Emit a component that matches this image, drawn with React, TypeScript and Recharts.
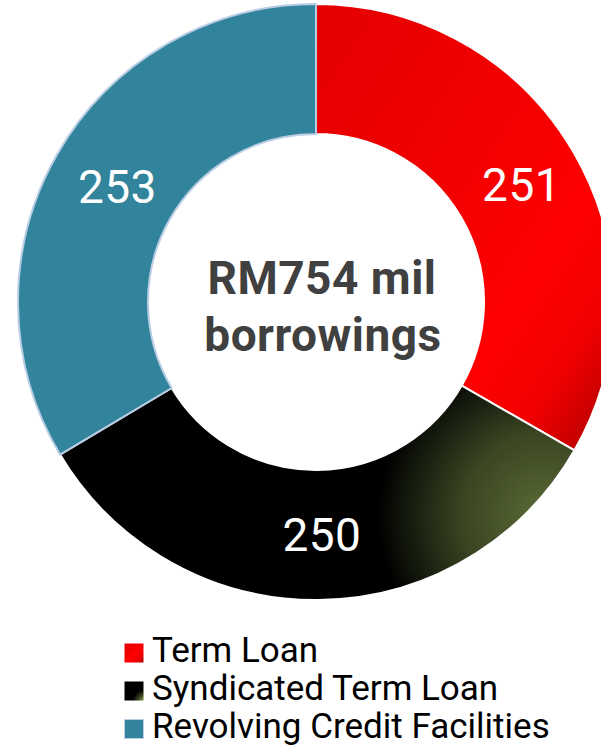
import React from "react";
import { PieChart, Pie, Cell, Legend } from "recharts";

const categories = ["Term Loan", "Syndicated Term Loan", "Revolving Credit Facilities"];
const values = [251, 250, 253];
const centerLines = ["RM754 mil", "borrowings"];

const sliceFills = ["url(#gradRed)", "url(#gradBlack)", "#31849B"];
const sliceStrokes = ["#FFFFFF", "#FFFFFF", "#B9CDE5"];
const legendFills = ["url(#lgRed)", "url(#lgBlack)", "#31849B"];
const legendStrokes = ["none", "none", "#B9CDE5"];

const data = categories.map((name, i) => ({ name, value: values[i] }));

const RAD = Math.PI / 180;

const renderLabel = (props: any) => {
  const { cx, cy, midAngle, innerRadius, outerRadius, value } = props;
  const r = (innerRadius + outerRadius) / 2;
  const x = cx + r * Math.cos(-midAngle * RAD);
  const y = cy + r * Math.sin(-midAngle * RAD);
  return (
    <text
      x={x + 4}
      y={y}
      fill="#FFFFFF"
      textAnchor="middle"
      dominantBaseline="central"
      style={{ fontFamily: "Roboto", fontSize: 46, letterSpacing: 0.5 }}
    >
      {value}
    </text>
  );
};

const renderLegend = () => (
  <div style={{ fontFamily: "Roboto", fontSize: 35, color: "#000", textAlign: "left" }}>
    {categories.map((c, i) => (
      <div key={c} style={{ display: "flex", alignItems: "center", height: 38, lineHeight: "38px", whiteSpace: "nowrap" }}>
        <svg width={20} height={20} style={{ marginRight: 8, position: "relative", top: 2, flex: "none" }}>
          <defs>
            <linearGradient id="lgRed" x1="0" y1="0" x2="1" y2="1">
              <stop offset="0" stopColor="#E40000" />
              <stop offset="0.6" stopColor="#FF0000" />
              <stop offset="0.85" stopColor="#E00000" />
              <stop offset="1" stopColor="#A00000" />
            </linearGradient>
            <radialGradient id="lgBlack" cx="1" cy="1" r="0.55">
              <stop offset="0" stopColor="#8A9A50" />
              <stop offset="0.5" stopColor="#3A4520" />
              <stop offset="1" stopColor="#000000" />
            </radialGradient>
          </defs>
          <rect
            x={0.5}
            y={0.5}
            width={19}
            height={19}
            fill={legendFills[i]}
            stroke={legendStrokes[i]}
            strokeWidth={1}
          />
        </svg>
        <span>{c}</span>
      </div>
    ))}
  </div>
);

export default function App() {
  return (
    <div style={{ position: "absolute", left: 0, top: 0, width: 601, height: 746, background: "#FFFFFF" }}>
      <PieChart width={601} height={746} margin={{ top: 0, right: 0, bottom: 0, left: 0 }}>
        <defs>
          <linearGradient id="gradRed" x1="0" y1="0" x2="1" y2="1">
            <stop offset="0" stopColor="#E40000" />
            <stop offset="0.35" stopColor="#F00000" />
            <stop offset="0.68" stopColor="#FF0000" />
            <stop offset="0.82" stopColor="#F20000" />
            <stop offset="1" stopColor="#A80000" />
          </linearGradient>
          <radialGradient id="gradBlack" gradientUnits="userSpaceOnUse" cx={545} cy={515} r={185}>
            <stop offset="0" stopColor="#5A6B35" />
            <stop offset="0.45" stopColor="#3A4522" />
            <stop offset="0.78" stopColor="#10140A" />
            <stop offset="0.9" stopColor="#000000" />
            <stop offset="1" stopColor="#000000" />
          </radialGradient>
        </defs>
        <Pie
          data={data}
          dataKey="value"
          nameKey="name"
          cx={316}
          cy={302}
          innerRadius={168}
          outerRadius={298}
          startAngle={90}
          endAngle={-270}
          label={renderLabel}
          labelLine={false}
          isAnimationActive={false}
        >
          {data.map((d, i) => (
            <Cell key={d.name} fill={sliceFills[i]} stroke={sliceStrokes[i]} strokeWidth={2} />
          ))}
        </Pie>
        <text
          x={322}
          y={294}
          textAnchor="middle"
          fill="#404040"
          style={{ fontFamily: "Roboto", fontSize: 46, fontWeight: 700, letterSpacing: 0.5 }}
        >
          {centerLines[0]}
        </text>
        <text
          x={323}
          y={351}
          textAnchor="middle"
          fill="#404040"
          style={{ fontFamily: "Roboto", fontSize: 46, fontWeight: 700, letterSpacing: 0.5 }}
        >
          {centerLines[1]}
        </text>
        <Legend
          content={renderLegend}
          wrapperStyle={{ position: "absolute", left: 124, top: 632, width: 470, height: 114 }}
        />
      </PieChart>
    </div>
  );
}
